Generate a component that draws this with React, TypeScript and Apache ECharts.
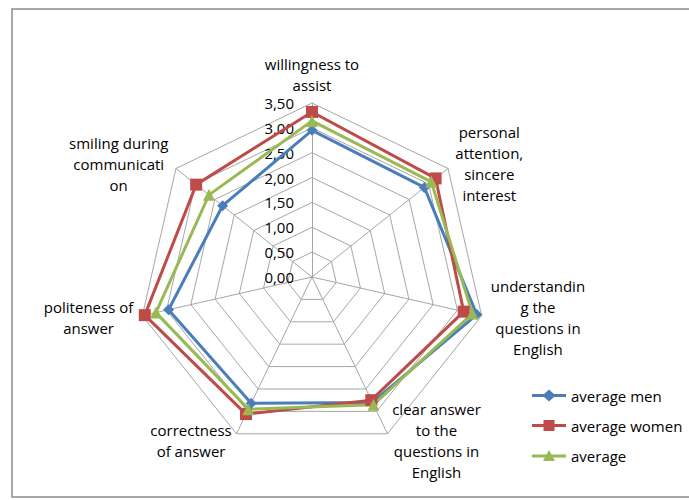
import React, { useEffect, useRef } from "react";
import * as echarts from "echarts";

// Categories listed clockwise from the top, as in the reference
const indicators = [
  "willingness to\nassist",
  "personal\nattention,\nsincere\ninterest",
  "understandin\ng the\nquestions in\nEnglish",
  "clear answer\nto the\nquestions in\nEnglish",
  "correctness\nof answer",
  "politeness of\nanswer",
  "smiling during\ncommunicati\non",
];
const averageMen = [2.95, 2.89, 3.4, 2.8, 2.82, 2.96, 2.3];
const averageWomen = [3.32, 3.18, 3.13, 2.75, 3.06, 3.45, 2.98];
const average = [3.14, 3.07, 3.31, 2.85, 2.95, 3.22, 2.65];
const axisMax = 3.5;
const axisStep = 0.5;

const CX = 312;
const CY = 277;
const R = 174;
const FONT = "'Open Sans', 'Noto Sans', sans-serif";
const FS = 15;

// ECharts radar runs counter-clockwise; reorder so categories run clockwise
const order = indicators.map((_, i) => (i === 0 ? 0 : indicators.length - i));
const reorder = (arr: any[]) => order.map((i) => arr[i]);

function measure(text: string): number {
  const ctx = document.createElement("canvas").getContext("2d");
  if (!ctx) return text.length * 8;
  ctx.font = `${FS}px ${FONT}`;
  return ctx.measureText(text).width;
}

const ICON_DIAMOND =
  "path://M0,5.5L12,5.5L17,1L22,5.5L34,5.5L34,8.5L22,8.5L17,13L12,8.5L0,8.5Z";
const ICON_SQUARE =
  "path://M0,5.5L11.5,5.5L11.5,1.5L22.5,1.5L22.5,5.5L34,5.5L34,8.5L22.5,8.5L22.5,12.5L11.5,12.5L11.5,8.5L0,8.5Z";
const ICON_TRIANGLE =
  "path://M0,5.5L14.5,5.5L17,1L19.5,5.5L34,5.5L34,8.5L21.2,8.5L23,12L11,12L12.8,8.5L0,8.5Z";

export default function App() {
  const ref = useRef<HTMLDivElement>(null);
  useEffect(() => {
    if (!ref.current) return;
    const chart = echarts.init(ref.current, null, { renderer: "svg" });
    const names = reorder(indicators);
    const rich: Record<string, any> = {};
    names.forEach((n: string, i: number) => {
      const w = Math.ceil(Math.max(...n.split("\n").map(measure))) + 2;
      rich["n" + i] = {
        width: w,
        align: "center",
        fontSize: FS,
        lineHeight: 21,
        color: "#000",
        fontFamily: FONT,
      };
    });
    chart.setOption({
      animation: false,
      backgroundColor: "#ffffff",
      textStyle: { fontFamily: FONT },
      graphic: [
        {
          type: "rect",
          shape: { x: 12, y: 9, width: 700, height: 488 },
          style: { fill: "none", stroke: "#8a8a8a", lineWidth: 1.5 },
          silent: true,
        },
      ],
      legend: {
        orient: "vertical",
        left: 527,
        top: 383,
        itemGap: 15,
        itemWidth: 34,
        itemHeight: 14,
        textStyle: { fontSize: FS, color: "#000", fontFamily: FONT },
        data: [
          { name: "average men", icon: ICON_DIAMOND },
          { name: "average women", icon: ICON_SQUARE },
          { name: "average", icon: ICON_TRIANGLE },
        ],
      },
      radar: {
        center: [CX, CY],
        radius: R,
        startAngle: 90,
        splitNumber: 7,
        shape: "polygon",
        indicator: names.map((name: string) => ({ name, min: 0, max: axisMax })),
        axisName: {
          color: "#000",
          fontSize: FS,
          lineHeight: 21,
          fontFamily: FONT,
          formatter: (name: string) => {
            const i = names.indexOf(name);
            return name
              .split("\n")
              .map((l) => `{n${i}|${l}}`)
              .join("\n");
          },
          rich,
        },
        nameGap: 8,
        splitArea: { show: false },
        splitLine: { lineStyle: { color: "#a6a6a6", width: 1 } },
        axisLine: { lineStyle: { color: "#a6a6a6", width: 1 } },
        axisTick: { show: false },
        axisLabel: { show: false },
      },
      polar: { center: [CX, CY], radius: R },
      angleAxis: {
        show: false,
        startAngle: 90,
        min: 0,
        max: 360,
      },
      radiusAxis: {
        min: 0,
        max: axisMax,
        interval: axisStep,
        axisLine: { show: false },
        axisTick: { show: false },
        splitLine: { show: false },
        axisLabel: {
          show: true,
          color: "#000",
          fontSize: FS,
          fontFamily: FONT,
          margin: 18,
          formatter: (v: number) => v.toFixed(2).replace(".", ","),
        },
      },
      series: [
        {
          name: "average men",
          type: "radar",
          symbol: "diamond",
          symbolSize: 11,
          lineStyle: { color: "#4a7ebb", width: 3 },
          itemStyle: { color: "#4a7ebb" },
          data: [{ value: reorder(averageMen), name: "average men" }],
        },
        {
          name: "average women",
          type: "radar",
          symbol: "rect",
          symbolSize: 12,
          lineStyle: { color: "#be4b48", width: 3 },
          itemStyle: { color: "#be4b48" },
          data: [{ value: reorder(averageWomen), name: "average women" }],
        },
        {
          name: "average",
          type: "radar",
          symbol: "triangle",
          symbolSize: 12,
          lineStyle: { color: "#98b954", width: 3 },
          itemStyle: { color: "#98b954" },
          data: [{ value: reorder(average), name: "average" }],
        },
      ],
    });
    return () => chart.dispose();
  }, []);
  return (
    <div
      ref={ref}
      style={{ position: "fixed", left: 0, top: 0, width: 689, height: 500 }}
    />
  );
}
